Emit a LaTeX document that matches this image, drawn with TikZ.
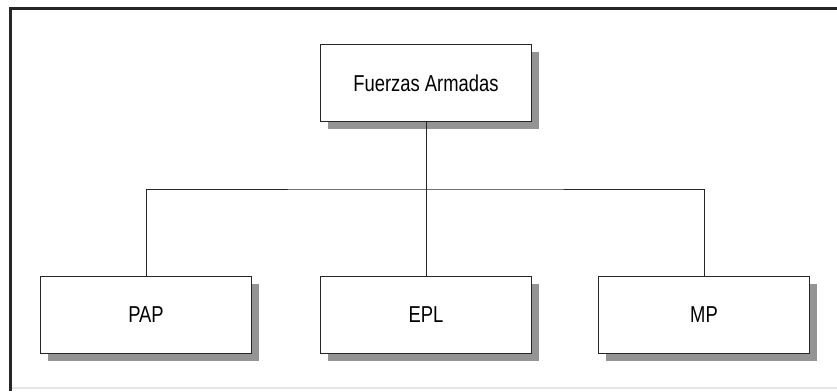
\documentclass[tikz,border=0pt]{standalone}
\usepackage{fontspec}
\setmainfont{Liberation Sans}[FakeStretch=0.8]
\usetikzlibrary{calc, shadows}

\begin{document}
\begin{tikzpicture}[x=1pt, y=-1pt, every node/.style={font=\fontsize{23}{26}\selectfont},
    unit/.style={draw=black!85, line width=1.2pt, fill=white, minimum width=211pt, minimum height=77pt,
        inner sep=0pt, outer sep=0pt,
        drop shadow={shadow xshift=7pt, shadow yshift=-7pt, fill=black!42, opacity=1}}]
    \useasboundingbox (0,0) rectangle (837,391);

    % frame
    \draw[black!85, line width=3pt] (837,8.5) -- (10.5,8.5) -- (10.5,391);
    \draw[black!10, line width=1.5pt] (12,388) -- (837,388);

    \coordinate (F) at (426,83);
    \coordinate (A) at (146,315);
    \coordinate (E) at (426,315);
    \coordinate (M) at (704,315);
    \coordinate (bar) at (426,189);

    \node[unit] (fa) at (F) {Fuerzas Armadas};
    \node[unit] (pap) at (A) {PAP};
    \node[unit] (epl) at (E) {EPL};
    \node[unit] (mp) at (M) {MP};

    \draw[black!85, line width=1pt] (fa.south) -- (epl.north);
    \draw[black!85, line width=1pt] (pap.north) |- (bar) -| (mp.north);
\end{tikzpicture}
\end{document}
